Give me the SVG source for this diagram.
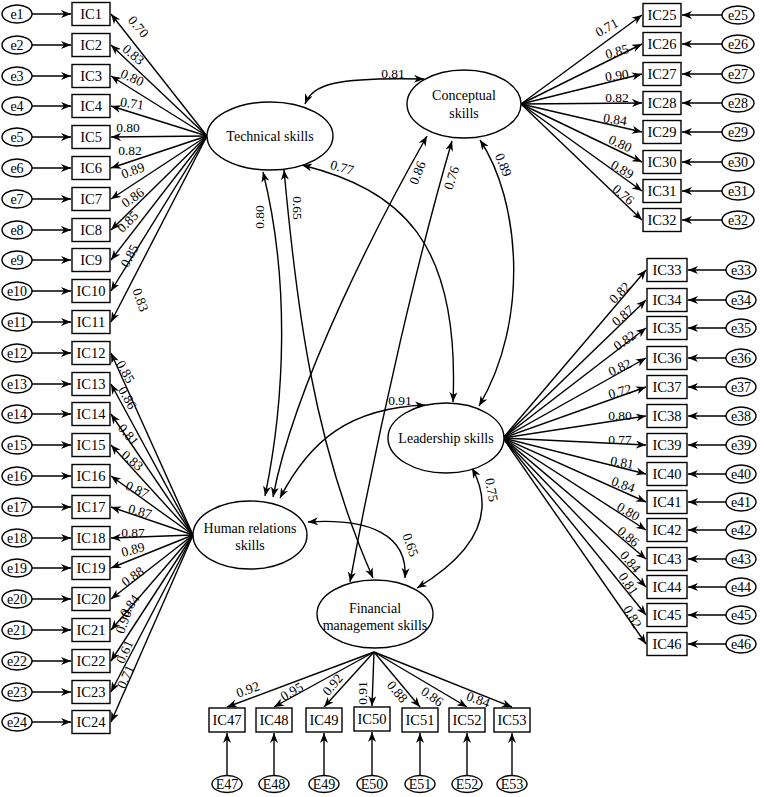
<svg xmlns="http://www.w3.org/2000/svg" width="764" height="797" viewBox="0 0 764 797">
<style>
text{font-family:"Liberation Serif","Times New Roman",serif;fill:#000}
.b{fill:#fff;stroke:#000;stroke-width:1.4}
.bt{font-size:14.5px;text-anchor:middle}
.et{font-size:14px;text-anchor:middle}
.lt{font-size:14px;text-anchor:middle}
.w{font-size:13.5px;text-anchor:middle}
.c path,.c line{fill:none;stroke:#000;stroke-width:1.4;marker-end:url(#ah)}
.c .d{marker-start:url(#ah)}
</style>
<defs>
<marker id="ah" viewBox="0 0 10 8" refX="10" refY="4" markerWidth="10" markerHeight="8" markerUnits="userSpaceOnUse" orient="auto-start-reverse"><path d="M0,0 L10,4 L0,8 L3,4 z" fill="#000"/></marker>
</defs>
<rect width="764" height="797" fill="#fff"/>

<g class="c" id="connectors">
<line x1="207" y1="136" x2="111" y2="14"/>
<line x1="207" y1="136" x2="111" y2="45"/>
<line x1="207" y1="136" x2="111" y2="76"/>
<line x1="207" y1="136" x2="111" y2="106"/>
<line x1="207" y1="136" x2="111" y2="137"/>
<line x1="207" y1="136" x2="111" y2="168"/>
<line x1="207" y1="136" x2="111" y2="199"/>
<line x1="207" y1="136" x2="111" y2="230"/>
<line x1="207" y1="136" x2="111" y2="260"/>
<line x1="207" y1="136" x2="111" y2="291"/>
<line x1="207" y1="136" x2="111" y2="322"/>
<line x1="193" y1="535" x2="111" y2="353"/>
<line x1="193" y1="535" x2="111" y2="384"/>
<line x1="193" y1="535" x2="111" y2="414"/>
<line x1="193" y1="535" x2="111" y2="445"/>
<line x1="193" y1="535" x2="111" y2="476"/>
<line x1="193" y1="535" x2="111" y2="507"/>
<line x1="193" y1="535" x2="111" y2="538"/>
<line x1="193" y1="535" x2="111" y2="568"/>
<line x1="193" y1="535" x2="111" y2="599"/>
<line x1="193" y1="535" x2="111" y2="630"/>
<line x1="193" y1="535" x2="111" y2="661"/>
<line x1="193" y1="535" x2="111" y2="692"/>
<line x1="193" y1="535" x2="111" y2="722"/>
<line x1="521" y1="104" x2="642" y2="15"/>
<line x1="521" y1="104" x2="642" y2="44"/>
<line x1="521" y1="104" x2="642" y2="74"/>
<line x1="521" y1="104" x2="642" y2="103"/>
<line x1="521" y1="104" x2="642" y2="132"/>
<line x1="521" y1="104" x2="642" y2="162"/>
<line x1="521" y1="104" x2="642" y2="191"/>
<line x1="521" y1="104" x2="642" y2="220"/>
<line x1="503" y1="438" x2="646" y2="270"/>
<line x1="503" y1="438" x2="646" y2="300"/>
<line x1="503" y1="438" x2="646" y2="328"/>
<line x1="503" y1="438" x2="646" y2="358"/>
<line x1="503" y1="438" x2="646" y2="387"/>
<line x1="503" y1="438" x2="646" y2="416"/>
<line x1="503" y1="438" x2="646" y2="445"/>
<line x1="503" y1="438" x2="646" y2="474"/>
<line x1="503" y1="438" x2="646" y2="502"/>
<line x1="503" y1="438" x2="646" y2="530"/>
<line x1="503" y1="438" x2="646" y2="559"/>
<line x1="503" y1="438" x2="646" y2="587"/>
<line x1="503" y1="438" x2="646" y2="615"/>
<line x1="503" y1="438" x2="646" y2="644"/>
<line x1="374" y1="652" x2="227" y2="707"/>
<line x1="374" y1="652" x2="274" y2="707"/>
<line x1="374" y1="652" x2="324" y2="707"/>
<line x1="374" y1="652" x2="372" y2="706"/>
<line x1="374" y1="652" x2="420" y2="707"/>
<line x1="374" y1="652" x2="467" y2="707"/>
<line x1="374" y1="652" x2="512" y2="707"/>
<line x1="32" y1="14" x2="71" y2="14"/>
<line x1="32" y1="45" x2="71" y2="45"/>
<line x1="32" y1="76" x2="71" y2="76"/>
<line x1="32" y1="106" x2="71" y2="106"/>
<line x1="32" y1="137" x2="71" y2="137"/>
<line x1="32" y1="168" x2="71" y2="168"/>
<line x1="32" y1="199" x2="71" y2="199"/>
<line x1="32" y1="230" x2="71" y2="230"/>
<line x1="32" y1="260" x2="71" y2="260"/>
<line x1="32" y1="291" x2="71" y2="291"/>
<line x1="32" y1="322" x2="71" y2="322"/>
<line x1="32" y1="353" x2="71" y2="353"/>
<line x1="32" y1="384" x2="71" y2="384"/>
<line x1="32" y1="414" x2="71" y2="414"/>
<line x1="32" y1="445" x2="71" y2="445"/>
<line x1="32" y1="476" x2="71" y2="476"/>
<line x1="32" y1="507" x2="71" y2="507"/>
<line x1="32" y1="538" x2="71" y2="538"/>
<line x1="32" y1="568" x2="71" y2="568"/>
<line x1="32" y1="599" x2="71" y2="599"/>
<line x1="32" y1="630" x2="71" y2="630"/>
<line x1="32" y1="661" x2="71" y2="661"/>
<line x1="32" y1="692" x2="71" y2="692"/>
<line x1="32" y1="722" x2="71" y2="722"/>
<line x1="722" y1="15" x2="682" y2="15"/>
<line x1="722" y1="44" x2="682" y2="44"/>
<line x1="722" y1="74" x2="682" y2="74"/>
<line x1="722" y1="103" x2="682" y2="103"/>
<line x1="722" y1="132" x2="682" y2="132"/>
<line x1="722" y1="162" x2="682" y2="162"/>
<line x1="722" y1="191" x2="682" y2="191"/>
<line x1="722" y1="220" x2="682" y2="220"/>
<line x1="726" y1="270" x2="688" y2="270"/>
<line x1="726" y1="300" x2="688" y2="300"/>
<line x1="726" y1="328" x2="688" y2="328"/>
<line x1="726" y1="358" x2="688" y2="358"/>
<line x1="726" y1="387" x2="688" y2="387"/>
<line x1="726" y1="416" x2="688" y2="416"/>
<line x1="726" y1="445" x2="688" y2="445"/>
<line x1="726" y1="474" x2="688" y2="474"/>
<line x1="726" y1="502" x2="688" y2="502"/>
<line x1="726" y1="530" x2="688" y2="530"/>
<line x1="726" y1="559" x2="688" y2="559"/>
<line x1="726" y1="587" x2="688" y2="587"/>
<line x1="726" y1="615" x2="688" y2="615"/>
<line x1="726" y1="644" x2="688" y2="644"/>
<line x1="227" y1="776" x2="227" y2="733"/>
<line x1="274" y1="776" x2="274" y2="733"/>
<line x1="324" y1="776" x2="324" y2="733"/>
<line x1="372" y1="776" x2="372" y2="732"/>
<line x1="420" y1="776" x2="420" y2="733"/>
<line x1="467" y1="776" x2="467" y2="733"/>
<line x1="512" y1="776" x2="512" y2="733"/>
<path class="d" d="M305,104 C313,84 336,77 424,79"/>
<path class="d" d="M302,165 C400,190 460,240 453,402"/>
<path class="d" d="M263,172 C290,280 285,400 265,496"/>
<path class="d" d="M284,170 C296,300 312,440 373,578"/>
<path class="d" d="M427,136 C385,210 295,380 273,497"/>
<path class="d" d="M452,141 C420,250 380,420 350,582"/>
<path class="d" d="M480,140 C520,200 530,320 479,406"/>
<path class="d" d="M280,498 C310,440 350,408 425,405"/>
<path class="d" d="M308,522 C370,518 408,535 405,578"/>
<path class="d" d="M472,468 C495,510 480,550 417,588"/>
</g>

<g id="weights">
<text class="w" transform="translate(138,27) rotate(50)" y="4">0.70</text>
<text class="w" transform="translate(133,55) rotate(40)" y="4">0.83</text>
<text class="w" transform="translate(132,78) rotate(25)" y="4">0.80</text>
<text class="w" transform="translate(132,104) rotate(8)" y="4">0.71</text>
<text class="w" transform="translate(128,128)" y="4">0.80</text>
<text class="w" transform="translate(130,151)" y="4">0.82</text>
<text class="w" transform="translate(133,171) rotate(-20)" y="4">0.89</text>
<text class="w" transform="translate(133,198) rotate(-35)" y="4">0.86</text>
<text class="w" transform="translate(128,222) rotate(-45)" y="4">0.85</text>
<text class="w" transform="translate(130,256) rotate(-62)" y="4">0.85</text>
<text class="w" transform="translate(140,300) rotate(70)" y="4">0.83</text>

<text class="w" transform="translate(125,372) rotate(60)" y="4">0.85</text>
<text class="w" transform="translate(127,398) rotate(60)" y="4">0.86</text>
<text class="w" transform="translate(128,435) rotate(50)" y="4">0.81</text>
<text class="w" transform="translate(132,461) rotate(40)" y="4">0.83</text>
<text class="w" transform="translate(137,490) rotate(25)" y="4">0.87</text>
<text class="w" transform="translate(140,512) rotate(15)" y="4">0.87</text>
<text class="w" transform="translate(133,533)" y="4">0.87</text>
<text class="w" transform="translate(133,550) rotate(-15)" y="4">0.89</text>
<text class="w" transform="translate(133,577) rotate(-35)" y="4">0.88</text>
<text class="w" transform="translate(130,606) rotate(-55)" y="4">0.84</text>
<text class="w" transform="translate(124,622) rotate(-70)" y="4">0.90</text>
<text class="w" transform="translate(125,652) rotate(-65)" y="4">0.61</text>
<text class="w" transform="translate(126,677) rotate(-65)" y="4">0.71</text>

<text class="w" transform="translate(607,28) rotate(-30)" y="4">0.71</text>
<text class="w" transform="translate(617,52) rotate(-15)" y="4">0.85</text>
<text class="w" transform="translate(617,76) rotate(-8)" y="4">0.90</text>
<text class="w" transform="translate(617,98)" y="4">0.82</text>
<text class="w" transform="translate(615,120) rotate(8)" y="4">0.84</text>
<text class="w" transform="translate(620,144) rotate(25)" y="4">0.80</text>
<text class="w" transform="translate(622,170) rotate(30)" y="4">0.89</text>
<text class="w" transform="translate(623,195) rotate(40)" y="4">0.76</text>

<text class="w" transform="translate(620,293) rotate(-45)" y="4">0.82</text>
<text class="w" transform="translate(623,316) rotate(-40)" y="4">0.87</text>
<text class="w" transform="translate(625,341) rotate(-35)" y="4">0.82</text>
<text class="w" transform="translate(620,368) rotate(-25)" y="4">0.82</text>
<text class="w" transform="translate(620,392) rotate(-15)" y="4">0.72</text>
<text class="w" transform="translate(620,416)" y="4">0.80</text>
<text class="w" transform="translate(620,440)" y="4">0.77</text>
<text class="w" transform="translate(622,463) rotate(10)" y="4">0.81</text>
<text class="w" transform="translate(623,485) rotate(20)" y="4">0.84</text>
<text class="w" transform="translate(628,512) rotate(30)" y="4">0.80</text>
<text class="w" transform="translate(628,537) rotate(40)" y="4">0.86</text>
<text class="w" transform="translate(630,562) rotate(50)" y="4">0.84</text>
<text class="w" transform="translate(628,584) rotate(55)" y="4">0.81</text>
<text class="w" transform="translate(632,617) rotate(60)" y="4">0.82</text>

<text class="w" transform="translate(248,690) rotate(-20)" y="4">0.92</text>
<text class="w" transform="translate(292,692) rotate(-30)" y="4">0.95</text>
<text class="w" transform="translate(333,685) rotate(-50)" y="4">0.92</text>
<text class="w" transform="translate(363,693) rotate(-90)" y="4">0.91</text>
<text class="w" transform="translate(397,692) rotate(50)" y="4">0.88</text>
<text class="w" transform="translate(432,697) rotate(35)" y="4">0.86</text>
<text class="w" transform="translate(478,700) rotate(20)" y="4">0.84</text>

<text class="w" transform="translate(393,74)" y="4">0.81</text>
<text class="w" transform="translate(342,168) rotate(15)" y="4">0.77</text>
<text class="w" transform="translate(260,217) rotate(-90)" y="4">0.80</text>
<text class="w" transform="translate(297,208) rotate(90)" y="4">0.65</text>
<text class="w" transform="translate(418,173) rotate(-68)" y="4">0.86</text>
<text class="w" transform="translate(452,178) rotate(-72)" y="4">0.76</text>
<text class="w" transform="translate(503,165) rotate(68)" y="4">0.89</text>
<text class="w" transform="translate(400,401)" y="4">0.91</text>
<text class="w" transform="translate(410,545) rotate(70)" y="4">0.65</text>
<text class="w" transform="translate(491,490) rotate(80)" y="4">0.75</text>
</g>

<g id="technical"><ellipse class="b" cx="270" cy="136" rx="63" ry="34"/><text class="lt" x="270" y="141">Technical skills</text></g>
<g id="conceptual"><ellipse class="b" cx="464" cy="104" rx="57" ry="34"/><text class="lt" x="464" y="100">Conceptual</text><text class="lt" x="464" y="118">skills</text></g>
<g id="leadership"><ellipse class="b" cx="446" cy="438" rx="58" ry="35"/><text class="lt" x="446" y="443">Leadership skills</text></g>
<g id="human"><ellipse class="b" cx="250" cy="535" rx="57" ry="34"/><text class="lt" x="250" y="533">Human relations</text><text class="lt" x="250" y="550">skills</text></g>
<g id="financial"><ellipse class="b" cx="375" cy="614" rx="58" ry="34"/><text class="lt" x="375" y="613">Financial</text><text class="lt" x="375" y="630">management skills</text></g>

<g id="IC1"><rect class="b" x="72" y="2.5" width="38" height="23"/><text class="bt" x="91" y="19">IC1</text></g>
<g id="IC2"><rect class="b" x="72" y="33.5" width="38" height="23"/><text class="bt" x="91" y="50">IC2</text></g>
<g id="IC3"><rect class="b" x="72" y="64.5" width="38" height="23"/><text class="bt" x="91" y="81">IC3</text></g>
<g id="IC4"><rect class="b" x="72" y="94.5" width="38" height="23"/><text class="bt" x="91" y="111">IC4</text></g>
<g id="IC5"><rect class="b" x="72" y="125.5" width="38" height="23"/><text class="bt" x="91" y="142">IC5</text></g>
<g id="IC6"><rect class="b" x="72" y="156.5" width="38" height="23"/><text class="bt" x="91" y="173">IC6</text></g>
<g id="IC7"><rect class="b" x="72" y="187.5" width="38" height="23"/><text class="bt" x="91" y="204">IC7</text></g>
<g id="IC8"><rect class="b" x="72" y="218.5" width="38" height="23"/><text class="bt" x="91" y="235">IC8</text></g>
<g id="IC9"><rect class="b" x="72" y="248.5" width="38" height="23"/><text class="bt" x="91" y="265">IC9</text></g>
<g id="IC10"><rect class="b" x="72" y="279.5" width="38" height="23"/><text class="bt" x="91" y="296">IC10</text></g>
<g id="IC11"><rect class="b" x="72" y="310.5" width="38" height="23"/><text class="bt" x="91" y="327">IC11</text></g>
<g id="IC12"><rect class="b" x="72" y="341.5" width="38" height="23"/><text class="bt" x="91" y="358">IC12</text></g>
<g id="IC13"><rect class="b" x="72" y="372.5" width="38" height="23"/><text class="bt" x="91" y="389">IC13</text></g>
<g id="IC14"><rect class="b" x="72" y="402.5" width="38" height="23"/><text class="bt" x="91" y="419">IC14</text></g>
<g id="IC15"><rect class="b" x="72" y="433.5" width="38" height="23"/><text class="bt" x="91" y="450">IC15</text></g>
<g id="IC16"><rect class="b" x="72" y="464.5" width="38" height="23"/><text class="bt" x="91" y="481">IC16</text></g>
<g id="IC17"><rect class="b" x="72" y="495.5" width="38" height="23"/><text class="bt" x="91" y="512">IC17</text></g>
<g id="IC18"><rect class="b" x="72" y="526.5" width="38" height="23"/><text class="bt" x="91" y="543">IC18</text></g>
<g id="IC19"><rect class="b" x="72" y="556.5" width="38" height="23"/><text class="bt" x="91" y="573">IC19</text></g>
<g id="IC20"><rect class="b" x="72" y="587.5" width="38" height="23"/><text class="bt" x="91" y="604">IC20</text></g>
<g id="IC21"><rect class="b" x="72" y="618.5" width="38" height="23"/><text class="bt" x="91" y="635">IC21</text></g>
<g id="IC22"><rect class="b" x="72" y="649.5" width="38" height="23"/><text class="bt" x="91" y="666">IC22</text></g>
<g id="IC23"><rect class="b" x="72" y="680.5" width="38" height="23"/><text class="bt" x="91" y="697">IC23</text></g>
<g id="IC24"><rect class="b" x="72" y="710.5" width="38" height="23"/><text class="bt" x="91" y="727">IC24</text></g>

<g id="e1"><ellipse class="b" cx="17" cy="14" rx="15" ry="9"/><text class="et" x="17" y="19">e1</text></g>
<g id="e2"><ellipse class="b" cx="17" cy="45" rx="15" ry="9"/><text class="et" x="17" y="50">e2</text></g>
<g id="e3"><ellipse class="b" cx="17" cy="76" rx="15" ry="9"/><text class="et" x="17" y="81">e3</text></g>
<g id="e4"><ellipse class="b" cx="17" cy="106" rx="15" ry="9"/><text class="et" x="17" y="111">e4</text></g>
<g id="e5"><ellipse class="b" cx="17" cy="137" rx="15" ry="9"/><text class="et" x="17" y="142">e5</text></g>
<g id="e6"><ellipse class="b" cx="17" cy="168" rx="15" ry="9"/><text class="et" x="17" y="173">e6</text></g>
<g id="e7"><ellipse class="b" cx="17" cy="199" rx="15" ry="9"/><text class="et" x="17" y="204">e7</text></g>
<g id="e8"><ellipse class="b" cx="17" cy="230" rx="15" ry="9"/><text class="et" x="17" y="235">e8</text></g>
<g id="e9"><ellipse class="b" cx="17" cy="260" rx="15" ry="9"/><text class="et" x="17" y="265">e9</text></g>
<g id="e10"><ellipse class="b" cx="17" cy="291" rx="15" ry="9"/><text class="et" x="17" y="296">e10</text></g>
<g id="e11"><ellipse class="b" cx="17" cy="322" rx="15" ry="9"/><text class="et" x="17" y="327">e11</text></g>
<g id="e12"><ellipse class="b" cx="17" cy="353" rx="15" ry="9"/><text class="et" x="17" y="358">e12</text></g>
<g id="e13"><ellipse class="b" cx="17" cy="384" rx="15" ry="9"/><text class="et" x="17" y="389">e13</text></g>
<g id="e14"><ellipse class="b" cx="17" cy="414" rx="15" ry="9"/><text class="et" x="17" y="419">e14</text></g>
<g id="e15"><ellipse class="b" cx="17" cy="445" rx="15" ry="9"/><text class="et" x="17" y="450">e15</text></g>
<g id="e16"><ellipse class="b" cx="17" cy="476" rx="15" ry="9"/><text class="et" x="17" y="481">e16</text></g>
<g id="e17"><ellipse class="b" cx="17" cy="507" rx="15" ry="9"/><text class="et" x="17" y="512">e17</text></g>
<g id="e18"><ellipse class="b" cx="17" cy="538" rx="15" ry="9"/><text class="et" x="17" y="543">e18</text></g>
<g id="e19"><ellipse class="b" cx="17" cy="568" rx="15" ry="9"/><text class="et" x="17" y="573">e19</text></g>
<g id="e20"><ellipse class="b" cx="17" cy="599" rx="15" ry="9"/><text class="et" x="17" y="604">e20</text></g>
<g id="e21"><ellipse class="b" cx="17" cy="630" rx="15" ry="9"/><text class="et" x="17" y="635">e21</text></g>
<g id="e22"><ellipse class="b" cx="17" cy="661" rx="15" ry="9"/><text class="et" x="17" y="666">e22</text></g>
<g id="e23"><ellipse class="b" cx="17" cy="692" rx="15" ry="9"/><text class="et" x="17" y="697">e23</text></g>
<g id="e24"><ellipse class="b" cx="17" cy="722" rx="15" ry="9"/><text class="et" x="17" y="727">e24</text></g>

<g id="IC25"><rect class="b" x="643" y="3.5" width="38" height="23"/><text class="bt" x="662" y="20">IC25</text></g>
<g id="IC26"><rect class="b" x="643" y="32.5" width="38" height="23"/><text class="bt" x="662" y="49">IC26</text></g>
<g id="IC27"><rect class="b" x="643" y="62.5" width="38" height="23"/><text class="bt" x="662" y="79">IC27</text></g>
<g id="IC28"><rect class="b" x="643" y="91.5" width="38" height="23"/><text class="bt" x="662" y="108">IC28</text></g>
<g id="IC29"><rect class="b" x="643" y="120.5" width="38" height="23"/><text class="bt" x="662" y="137">IC29</text></g>
<g id="IC30"><rect class="b" x="643" y="150.5" width="38" height="23"/><text class="bt" x="662" y="167">IC30</text></g>
<g id="IC31"><rect class="b" x="643" y="179.5" width="38" height="23"/><text class="bt" x="662" y="196">IC31</text></g>
<g id="IC32"><rect class="b" x="643" y="208.5" width="38" height="23"/><text class="bt" x="662" y="225">IC32</text></g>

<g id="e25"><ellipse class="b" cx="738" cy="15" rx="16" ry="9"/><text class="et" x="738" y="20">e25</text></g>
<g id="e26"><ellipse class="b" cx="738" cy="44" rx="16" ry="9"/><text class="et" x="738" y="49">e26</text></g>
<g id="e27"><ellipse class="b" cx="738" cy="74" rx="16" ry="9"/><text class="et" x="738" y="79">e27</text></g>
<g id="e28"><ellipse class="b" cx="738" cy="103" rx="16" ry="9"/><text class="et" x="738" y="108">e28</text></g>
<g id="e29"><ellipse class="b" cx="738" cy="132" rx="16" ry="9"/><text class="et" x="738" y="137">e29</text></g>
<g id="e30"><ellipse class="b" cx="738" cy="162" rx="16" ry="9"/><text class="et" x="738" y="167">e30</text></g>
<g id="e31"><ellipse class="b" cx="738" cy="191" rx="16" ry="9"/><text class="et" x="738" y="196">e31</text></g>
<g id="e32"><ellipse class="b" cx="738" cy="220" rx="16" ry="9"/><text class="et" x="738" y="225">e32</text></g>

<g id="IC33"><rect class="b" x="647" y="258.5" width="40" height="23"/><text class="bt" x="667" y="275">IC33</text></g>
<g id="IC34"><rect class="b" x="647" y="288.5" width="40" height="23"/><text class="bt" x="667" y="305">IC34</text></g>
<g id="IC35"><rect class="b" x="647" y="316.5" width="40" height="23"/><text class="bt" x="667" y="333">IC35</text></g>
<g id="IC36"><rect class="b" x="647" y="346.5" width="40" height="23"/><text class="bt" x="667" y="363">IC36</text></g>
<g id="IC37"><rect class="b" x="647" y="375.5" width="40" height="23"/><text class="bt" x="667" y="392">IC37</text></g>
<g id="IC38"><rect class="b" x="647" y="404.5" width="40" height="23"/><text class="bt" x="667" y="421">IC38</text></g>
<g id="IC39"><rect class="b" x="647" y="433.5" width="40" height="23"/><text class="bt" x="667" y="450">IC39</text></g>
<g id="IC40"><rect class="b" x="647" y="462.5" width="40" height="23"/><text class="bt" x="667" y="479">IC40</text></g>
<g id="IC41"><rect class="b" x="647" y="490.5" width="40" height="23"/><text class="bt" x="667" y="507">IC41</text></g>
<g id="IC42"><rect class="b" x="647" y="518.5" width="40" height="23"/><text class="bt" x="667" y="535">IC42</text></g>
<g id="IC43"><rect class="b" x="647" y="547.5" width="40" height="23"/><text class="bt" x="667" y="564">IC43</text></g>
<g id="IC44"><rect class="b" x="647" y="575.5" width="40" height="23"/><text class="bt" x="667" y="592">IC44</text></g>
<g id="IC45"><rect class="b" x="647" y="603.5" width="40" height="23"/><text class="bt" x="667" y="620">IC45</text></g>
<g id="IC46"><rect class="b" x="647" y="632.5" width="40" height="23"/><text class="bt" x="667" y="649">IC46</text></g>

<g id="e33"><ellipse class="b" cx="741" cy="270" rx="15" ry="9"/><text class="et" x="741" y="275">e33</text></g>
<g id="e34"><ellipse class="b" cx="741" cy="300" rx="15" ry="9"/><text class="et" x="741" y="305">e34</text></g>
<g id="e35"><ellipse class="b" cx="741" cy="328" rx="15" ry="9"/><text class="et" x="741" y="333">e35</text></g>
<g id="e36"><ellipse class="b" cx="741" cy="358" rx="15" ry="9"/><text class="et" x="741" y="363">e36</text></g>
<g id="e37"><ellipse class="b" cx="741" cy="387" rx="15" ry="9"/><text class="et" x="741" y="392">e37</text></g>
<g id="e38"><ellipse class="b" cx="741" cy="416" rx="15" ry="9"/><text class="et" x="741" y="421">e38</text></g>
<g id="e39"><ellipse class="b" cx="741" cy="445" rx="15" ry="9"/><text class="et" x="741" y="450">e39</text></g>
<g id="e40"><ellipse class="b" cx="741" cy="474" rx="15" ry="9"/><text class="et" x="741" y="479">e40</text></g>
<g id="e41"><ellipse class="b" cx="741" cy="502" rx="15" ry="9"/><text class="et" x="741" y="507">e41</text></g>
<g id="e42"><ellipse class="b" cx="741" cy="530" rx="15" ry="9"/><text class="et" x="741" y="535">e42</text></g>
<g id="e43"><ellipse class="b" cx="741" cy="559" rx="15" ry="9"/><text class="et" x="741" y="564">e43</text></g>
<g id="e44"><ellipse class="b" cx="741" cy="587" rx="15" ry="9"/><text class="et" x="741" y="592">e44</text></g>
<g id="e45"><ellipse class="b" cx="741" cy="615" rx="15" ry="9"/><text class="et" x="741" y="620">e45</text></g>
<g id="e46"><ellipse class="b" cx="741" cy="644" rx="15" ry="9"/><text class="et" x="741" y="649">e46</text></g>

<g id="IC47"><rect class="b" x="209" y="708" width="36" height="24"/><text class="bt" x="227" y="725">IC47</text></g>
<g id="IC48"><rect class="b" x="256" y="708" width="36" height="24"/><text class="bt" x="274" y="725">IC48</text></g>
<g id="IC49"><rect class="b" x="306" y="708" width="36" height="24"/><text class="bt" x="324" y="725">IC49</text></g>
<g id="IC50"><rect class="b" x="354" y="707" width="36" height="24"/><text class="bt" x="372" y="724">IC50</text></g>
<g id="IC51"><rect class="b" x="402" y="708" width="36" height="24"/><text class="bt" x="420" y="725">IC51</text></g>
<g id="IC52"><rect class="b" x="449" y="708" width="36" height="24"/><text class="bt" x="467" y="725">IC52</text></g>
<g id="IC53"><rect class="b" x="494" y="708" width="36" height="24"/><text class="bt" x="512" y="725">IC53</text></g>

<g id="E47"><ellipse class="b" cx="227" cy="784" rx="15" ry="8.5"/><text class="et" x="227" y="789">E47</text></g>
<g id="E48"><ellipse class="b" cx="274" cy="784" rx="15" ry="8.5"/><text class="et" x="274" y="789">E48</text></g>
<g id="E49"><ellipse class="b" cx="324" cy="784" rx="15" ry="8.5"/><text class="et" x="324" y="789">E49</text></g>
<g id="E50"><ellipse class="b" cx="372" cy="784" rx="15" ry="8.5"/><text class="et" x="372" y="789">E50</text></g>
<g id="E51"><ellipse class="b" cx="420" cy="784" rx="15" ry="8.5"/><text class="et" x="420" y="789">E51</text></g>
<g id="E52"><ellipse class="b" cx="467" cy="784" rx="15" ry="8.5"/><text class="et" x="467" y="789">E52</text></g>
<g id="E53"><ellipse class="b" cx="512" cy="784" rx="15" ry="8.5"/><text class="et" x="512" y="789">E53</text></g>
</svg>
